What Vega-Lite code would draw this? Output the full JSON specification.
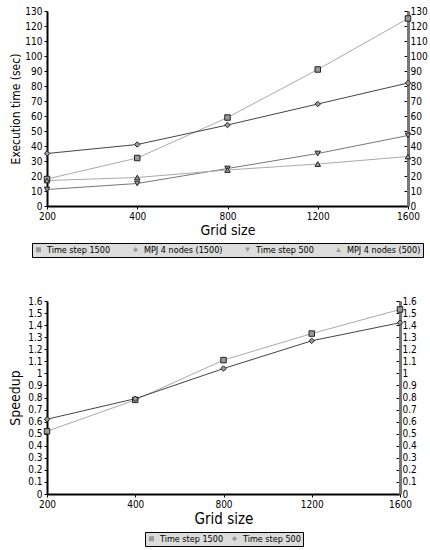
{
  "$schema": "https://vega.github.io/schema/vega-lite/v6.json",
  "background": "white",
  "padding": {"left": 8, "top": 6, "right": 4, "bottom": 2},
  "spacing": 38,
  "config": {
    "font": "DejaVu Sans Condensed, Liberation Sans",
    "view": {"stroke": null},
    "axis": {"labelFontSize": 10, "labelColor": "#000", "grid": false, "domainColor": "#000", "domainWidth": 2, "tickColor": "#000", "tickSize": 3, "titleFontWeight": "normal", "titleColor": "#000", "labelPadding": 2, "titleFontSize": 12},
    "legend": {"orient": "bottom", "direction": "horizontal", "fillColor": "#dcdcdc", "strokeColor": "#000", "padding": 2, "labelFontSize": 9, "labelColor": "#000", "symbolSize": 25, "columnPadding": 14, "symbolFillColor": "#9a9a9a", "symbolStrokeColor": "#222", "symbolStrokeWidth": 1, "offset": 6, "layout": {"bottom": {"anchor": "middle"}}}
  },
  "vconcat": [
    {
      "width": 361,
      "height": 195,
      "data": {"values": [
        {"grid": 200, "series": "Time step 1500", "value": 18},
        {"grid": 400, "series": "Time step 1500", "value": 32},
        {"grid": 800, "series": "Time step 1500", "value": 59},
        {"grid": 1200, "series": "Time step 1500", "value": 91},
        {"grid": 1600, "series": "Time step 1500", "value": 125},
        {"grid": 200, "series": "MPJ 4 nodes (1500)", "value": 35},
        {"grid": 400, "series": "MPJ 4 nodes (1500)", "value": 41},
        {"grid": 800, "series": "MPJ 4 nodes (1500)", "value": 54},
        {"grid": 1200, "series": "MPJ 4 nodes (1500)", "value": 68},
        {"grid": 1600, "series": "MPJ 4 nodes (1500)", "value": 82},
        {"grid": 200, "series": "Time step 500", "value": 11},
        {"grid": 400, "series": "Time step 500", "value": 15},
        {"grid": 800, "series": "Time step 500", "value": 25},
        {"grid": 1200, "series": "Time step 500", "value": 35},
        {"grid": 1600, "series": "Time step 500", "value": 47},
        {"grid": 200, "series": "MPJ 4 nodes (500)", "value": 17},
        {"grid": 400, "series": "MPJ 4 nodes (500)", "value": 19},
        {"grid": 800, "series": "MPJ 4 nodes (500)", "value": 24},
        {"grid": 1200, "series": "MPJ 4 nodes (500)", "value": 28},
        {"grid": 1600, "series": "MPJ 4 nodes (500)", "value": 33}
      ]},
      "layer": [
        {
          "mark": {"type": "line", "strokeWidth": 1},
          "encoding": {
            "x": {"field": "grid", "type": "ordinal", "scale": {"type": "point", "padding": 0}, "axis": {"title": "Grid size", "labelAngle": 0, "titleFontSize": 14, "titlePadding": 2}},
            "y": {"field": "value", "type": "quantitative", "scale": {"domain": [0, 130]}, "axis": {"title": "Execution time (sec)", "values": [0, 10, 20, 30, 40, 50, 60, 70, 80, 90, 100, 110, 120, 130], "titlePadding": 2}},
            "color": {"field": "series", "type": "nominal", "scale": {"range": ["#444444", "#aaaaaa", "#aaaaaa", "#777777"]}, "legend": null}
          }
        },
        {
          "mark": {"type": "point", "filled": true, "fill": "#9a9a9a", "stroke": "#222222", "strokeWidth": 1, "opacity": 1, "size": 30},
          "encoding": {
            "x": {"field": "grid", "type": "ordinal", "scale": {"type": "point", "padding": 0}},
            "y": {"field": "value", "type": "quantitative", "scale": {"domain": [0, 130]}, "axis": null},
            "shape": {"field": "series", "type": "nominal", "scale": {"domain": ["Time step 1500", "MPJ 4 nodes (1500)", "Time step 500", "MPJ 4 nodes (500)"], "range": ["square", "diamond", "triangle-down", "triangle-up"]}, "legend": {"title": null, "columnPadding": 20, "symbolStrokeColor": "#222222", "symbolFillColor": "#9a9a9a", "encode": {"symbols": {"update": {"stroke": {"value": "#222222"}, "strokeWidth": {"value": 1}, "fill": {"value": "#9a9a9a"}}}}}}
          }
        },
        {
          "mark": {"type": "line", "opacity": 0},
          "encoding": {
            "x": {"field": "grid", "type": "ordinal", "scale": {"type": "point", "padding": 0}},
            "y": {"field": "value", "type": "quantitative", "scale": {"domain": [0, 130]}, "axis": {"orient": "right", "title": null, "values": [0, 10, 20, 30, 40, 50, 60, 70, 80, 90, 100, 110, 120, 130], "domainColor": "#777777", "domainWidth": 3, "tickSize": -4, "labelPadding": 6}},
            "detail": {"field": "series"}
          }
        }
      ],
      "resolve": {"axis": {"y": "independent"}}
    },
    {
      "width": 353,
      "height": 193,
      "data": {"values": [
        {"grid": 200, "series": "Time step 1500", "value": 0.52},
        {"grid": 400, "series": "Time step 1500", "value": 0.78},
        {"grid": 800, "series": "Time step 1500", "value": 1.11},
        {"grid": 1200, "series": "Time step 1500", "value": 1.33},
        {"grid": 1600, "series": "Time step 1500", "value": 1.53},
        {"grid": 200, "series": "Time step 500", "value": 0.62},
        {"grid": 400, "series": "Time step 500", "value": 0.79},
        {"grid": 800, "series": "Time step 500", "value": 1.04},
        {"grid": 1200, "series": "Time step 500", "value": 1.27},
        {"grid": 1600, "series": "Time step 500", "value": 1.42}
      ]},
      "layer": [
        {
          "mark": {"type": "line", "strokeWidth": 1},
          "encoding": {
            "x": {"field": "grid", "type": "ordinal", "scale": {"type": "point", "padding": 0}, "axis": {"title": "Grid size", "labelAngle": 0, "titleFontSize": 15, "titlePadding": 2}},
            "y": {"field": "value", "type": "quantitative", "scale": {"domain": [0, 1.6]}, "axis": {"title": "Speedup", "titleFontSize": 14, "format": "~g", "values": [0, 0.1, 0.2, 0.3, 0.4, 0.5, 0.6, 0.7, 0.8, 0.9, 1, 1.1, 1.2, 1.3, 1.4, 1.5, 1.6], "titlePadding": 5}},
            "color": {"field": "series", "type": "nominal", "scale": {"range": ["#aaaaaa", "#444444"]}, "legend": null}
          }
        },
        {
          "mark": {"type": "point", "filled": true, "fill": "#9a9a9a", "stroke": "#222222", "strokeWidth": 1, "opacity": 1, "size": 30},
          "encoding": {
            "x": {"field": "grid", "type": "ordinal", "scale": {"type": "point", "padding": 0}},
            "y": {"field": "value", "type": "quantitative", "scale": {"domain": [0, 1.6]}, "axis": null},
            "shape": {"field": "series", "type": "nominal", "scale": {"domain": ["Time step 1500", "Time step 500"], "range": ["square", "diamond"]}, "legend": {"title": null, "columnPadding": 6, "symbolStrokeColor": "#222222", "symbolFillColor": "#9a9a9a", "encode": {"symbols": {"update": {"stroke": {"value": "#222222"}, "strokeWidth": {"value": 1}, "fill": {"value": "#9a9a9a"}}}}}}
          }
        },
        {
          "mark": {"type": "line", "opacity": 0},
          "encoding": {
            "x": {"field": "grid", "type": "ordinal", "scale": {"type": "point", "padding": 0}},
            "y": {"field": "value", "type": "quantitative", "scale": {"domain": [0, 1.6]}, "axis": {"orient": "right", "title": null, "format": "~g", "values": [0, 0.1, 0.2, 0.3, 0.4, 0.5, 0.6, 0.7, 0.8, 0.9, 1, 1.1, 1.2, 1.3, 1.4, 1.5, 1.6], "domainColor": "#777777", "domainWidth": 3, "tickSize": -4, "labelPadding": 6}},
            "detail": {"field": "series"}
          }
        }
      ],
      "resolve": {"axis": {"y": "independent"}}
    }
  ],
  "resolve": {"scale": {"color": "independent", "shape": "independent", "x": "independent", "y": "independent"}, "legend": {"shape": "independent", "color": "independent"}}
}
